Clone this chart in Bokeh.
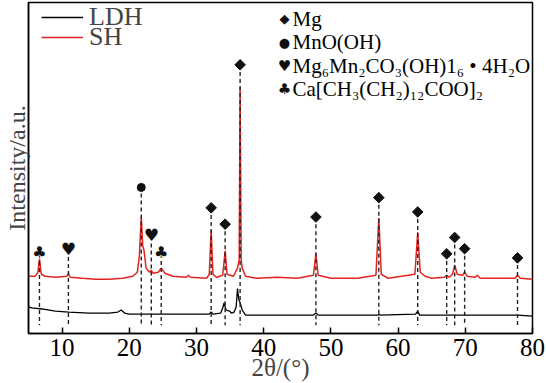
from bokeh.plotting import figure
from bokeh.models import Range1d, FixedTicker, Label, Legend, LegendItem
from bokeh.core.properties import value
from bokeh.embed import file_html
from bokeh.resources import INLINE

# ---- data (2theta in degrees, intensity in arbitrary units) ----
sh_2theta = [5.0, 6.0, 6.4, 6.63, 6.9, 7.5, 9.0, 10.7, 10.94, 11.2, 13.0, 15.0, 17.0, 19.0,
             20.5, 21.2, 21.5, 21.78, 22.0, 22.2, 22.5, 23.0, 23.27, 23.5, 24.3, 24.75, 25.3,
             26.5, 28.5, 28.8, 29.1, 31.5, 31.9, 32.18, 32.45, 33.0, 33.9, 34.26, 34.55, 35.5,
             36.1, 36.35, 36.49, 36.65, 36.8, 37.3, 39.0, 42.0, 45.0, 47.4, 47.77, 48.1, 50.0,
             54.0, 56.7, 57.13, 57.5, 58.5, 62.5, 62.92, 63.3, 64.0, 65.0, 66.9, 67.23, 67.6,
             68.1, 68.42, 68.8, 69.6, 69.9, 70.3, 71.4, 71.8, 72.2, 77.4, 77.77, 78.2, 80.0]
sh_int = [56, 56, 60, 73, 58, 56, 55, 56, 59, 55, 54, 53, 53, 54,
          56, 60, 76, 114, 86, 81, 64, 60, 62, 59, 60, 64, 59,
          56, 55, 57, 55, 54, 58, 101, 58, 55, 57, 81, 58, 56,
          64, 72, 241, 72, 64, 56, 54, 55, 54, 57, 78, 57, 54,
          54, 57, 113, 58, 54, 58, 99, 60, 56, 54, 55, 57, 55,
          58, 67, 58, 57, 60, 56, 55, 57, 54, 54, 57, 54, 53]

ldh_2theta = [5.0, 5.5, 7.0, 9.0, 11.0, 14.0, 17.0, 18.3, 18.8, 19.3, 20.0, 25.0, 30.0,
              31.9, 32.18, 32.45, 33.6, 33.9, 34.1, 34.4, 34.9, 35.2, 35.6, 35.9, 36.1, 36.3,
              36.5, 36.8, 37.3, 40.0, 47.4, 47.77, 48.1, 57.0, 57.13, 57.3, 62.6, 62.92, 63.2,
              68.4, 77.77, 80.0]
ldh_int = [26, 25, 24, 22, 21, 20, 20, 21, 23, 20, 19, 19, 19,
           19, 21, 19, 20, 25, 30, 23, 22, 20, 21, 26, 44, 33,
           30, 23, 18, 18, 18, 20, 18, 18, 19, 18, 19, 22, 18,
           18, 18, 17]

# phase markers: peak position and marker height
mg_pos = [32.18, 34.26, 36.49, 47.77, 57.13, 62.92, 67.23, 68.42, 69.9, 77.77]
mg_h = [123, 107, 263, 114, 133, 119, 78, 94, 83, 74]
mnooh_pos = [21.78]
mnooh_h = [143]
hydro_pos = [10.94, 23.27]
hydro_h = [83, 96]
ca_pos = [6.63, 24.75]
ca_h = [79, 79]

series_names = ["LDH", "SH"]
phase_names = ["Mg", "MnO(OH)", "Mg₆Mn₂CO₃(OH)1₆ • 4H₂O", "Ca[CH₃(CH₂)₁₂COO]₂"]
phase_symbols = ["◆", "●", "♥", "♣"]
phase_rows = [308, 285, 262, 239]
x_ticks = [10, 20, 30, 40, 50, 60, 70, 80]

SERIF = "Liberation Serif"
RED = "#e3241f"

p = figure(width=546, height=383, output_backend="svg", toolbar_location=None,
           x_range=Range1d(5, 80), y_range=Range1d(0, 324),
           min_border_left=27, min_border_right=14, min_border_top=2, min_border_bottom=0)
p.grid.visible = False
p.outline_line_color = "black"
p.outline_line_width = 1.5
p.background_fill_color = "white"
p.border_fill_color = "white"

# y axis: only the title
ya = p.yaxis[0]
ya.ticker = FixedTicker(ticks=[])
ya.major_tick_in = 0
ya.major_tick_out = 0
ya.minor_tick_line_color = None
ya.major_label_text_font_size = "0px"
ya.major_label_standoff = 0
ya.axis_line_width = 1.5
ya.axis_label = "Intensity/a.u."
ya.axis_label_text_font = SERIF
ya.axis_label_text_font_size = "24px"
ya.axis_label_text_font_style = "normal"
ya.axis_label_standoff = -1

# x axis
xa = p.xaxis[0]
xa.ticker = FixedTicker(ticks=x_ticks)
xa.major_tick_in = 6
xa.major_tick_out = 0
xa.minor_tick_line_color = None
xa.axis_line_width = 1.5
xa.major_tick_line_width = 1.5
xa.major_label_text_font = SERIF
xa.major_label_text_font_size = "25px"
xa.major_label_text_color = "black"
xa.major_label_standoff = 5
xa.axis_label = "2θ/(°)"
xa.axis_label_text_font = SERIF
xa.axis_label_text_font_size = "25px"
xa.axis_label_text_font_style = "normal"
xa.axis_label_standoff = -5

# curves
r_sh = p.line(sh_2theta, sh_int, line_color=RED, line_width=1.5)
r_ldh = p.line(ldh_2theta, ldh_int, line_color="black", line_width=1.3)

# dashed drop lines
for pos, h, gap in [(mg_pos, mg_h, 7), (mnooh_pos, mnooh_h, 6), (hydro_pos, hydro_h, 8), (ca_pos, ca_h, 8)]:
    p.segment(x0=pos, y0=[v - gap for v in h], x1=pos, y1=[8] * len(pos),
              line_color="#222222", line_width=1.4, line_dash="4 3")

# markers
p.scatter(mg_pos, mg_h, marker="square", angle=0.785398, size=7.5,
          fill_color="#111111", line_color="#111111")
p.scatter(mnooh_pos, mnooh_h, marker="circle", size=8, fill_color="#111111", line_color="#111111")
p.text(hydro_pos, hydro_h, text=[phase_symbols[2]] * len(hydro_pos), text_align="center",
       text_baseline="middle", text_font=value("DejaVu Sans"), text_font_size="17px", text_color="#111111")
p.text(ca_pos, ca_h, text=[phase_symbols[3]] * len(ca_pos), text_align="center",
       text_baseline="middle", text_font=value("DejaVu Sans"), text_font_size="16px", text_color="#111111")

# series legend: one entry per legend so each row can be placed
legend_style = dict(orientation="vertical", glyph_width=42, glyph_height=18, label_height=18,
                    label_standoff=6, spacing=0, padding=0, margin=0,
                    label_text_font=SERIF, label_text_font_size="26px",
                    background_fill_alpha=0, border_line_alpha=0)
p.add_layout(Legend(items=[LegendItem(label=series_names[0], renderers=[r_ldh])],
                    location=(13, 301), **legend_style))
p.add_layout(Legend(items=[LegendItem(label=series_names[1], renderers=[r_sh])],
                    location=(13, 281), **legend_style))

# phase legend
for sym, name, yy in zip(phase_symbols, phase_names, phase_rows):
    p.add_layout(Label(x=256, y=yy, x_units="screen", y_units="data", text=sym,
                       text_font="DejaVu Sans", text_font_size="13px" if sym in "◆●" else "15px",
                       text_align="center", text_baseline="middle", text_color="#111111"))
    p.add_layout(Label(x=264, y=yy, x_units="screen", y_units="data", text=name,
                       text_font=SERIF, text_font_size="21px",
                       text_align="left", text_baseline="middle", text_color="black"))

open("out.html", "w").write(file_html(p, INLINE))
